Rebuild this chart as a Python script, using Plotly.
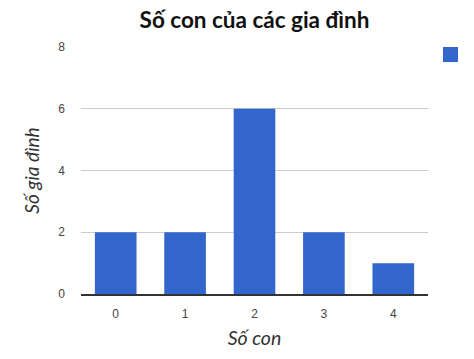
import plotly.graph_objects as go

categories = ["0", "1", "2", "3", "4"]
values = [2, 2, 6, 2, 1]
y_ticks = [0, 2, 4, 6, 8]

fig = go.Figure()
fig.add_trace(go.Bar(
    x=categories, y=values, name=" ",
    marker=dict(color="#3366cc", line=dict(width=0)),
    width=0.6, showlegend=False,
))

# legend swatch (the original legend shows only a coloured square)
fig.add_shape(type="rect", xref="paper", yref="paper",
              x0=1.0432, x1=1.0865, y0=0.939, y1=1.0,
              fillcolor="#3366cc", line=dict(width=0))

fig.update_layout(
    width=474, height=359,
    margin=dict(l=81, r=46, t=47, b=65),
    paper_bgcolor="white", plot_bgcolor="white",
    title=dict(text="<b>Số con của các gia đình</b>", x=0.5, xref="paper",
               y=0.945, yref="container", xanchor="center", yanchor="middle",
               font=dict(family="Lato", size=22.5, color="#111")),
    xaxis=dict(type="category", tickfont=dict(family="Liberation Sans", size=12, color="#444"),
               showgrid=False, showline=True, linecolor="#333", linewidth=1.5,
               ticks="", ticklabelstandoff=8,
               title=dict(text="<i>Số con</i>", font=dict(family="Lato", size=19.5, color="#333"), standoff=11)),
    yaxis=dict(range=[0, 8], tickvals=y_ticks, tickfont=dict(family="Liberation Sans", size=12, color="#444"),
               showgrid=True, gridcolor="#cccccc", gridwidth=1, zeroline=False,
               ticks="", ticklabelstandoff=15,
               title=dict(text="<i>Số gia đình</i>", font=dict(family="Lato", size=19, color="#333"), standoff=13)),
    showlegend=False,
    bargap=0.4,
)

fig.write_html("out.html")
